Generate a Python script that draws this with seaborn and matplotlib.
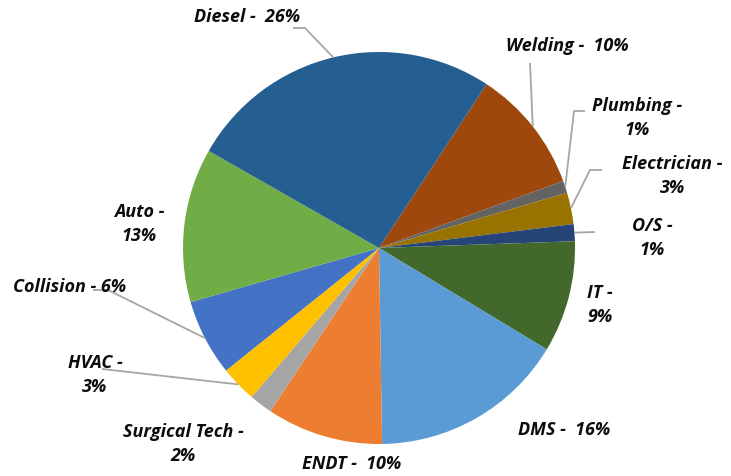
import matplotlib
matplotlib.use("Agg")
import matplotlib.pyplot as plt
import numpy as np
import seaborn as sns

# programs in clockwise order, starting with Welding
programs = ["Welding", "Plumbing", "Electrician", "O/S", "IT", "DMS", "ENDT",
            "Surgical Tech", "HVAC", "Collision", "Auto", "Diesel"]
shares = [10.2, 1.0, 2.6, 1.4, 9.2, 16.1, 9.6, 1.9, 3.0, 6.3, 12.7, 26.0]
labels = ["Welding -  10%", "Plumbing -\n1%", "Electrician -\n3%", "O/S -\n1%",
          "IT -\n9%", "DMS -  16%", "ENDT -  10%", "Surgical Tech -\n2%",
          "HVAC -\n3%", "Collision - 6%", "Auto -\n13%", "Diesel -  26%"]
colors = ["#9E480E", "#636363", "#997300", "#264478", "#43682B", "#5B9BD5",
          "#ED7D31", "#A5A5A5", "#FFC000", "#4472C4", "#70AD47", "#255E91"]

sns.set_theme(style="white")
plt.rcParams['font.family'] = ['Open Sans', 'DejaVu Sans']

W, H = 731, 476
CX, CY, R = 379, 248, 196


def py(y):
    # pixel row -> data y
    return H - y


# label centres in pixels
label_pos = [(567, 46), (637, 118), (672, 176), (652, 238), (600, 305),
             (564, 430), (352, 464), (183, 444), (95, 375), (70, 287),
             (139, 224), (247, 17)]
# leader line elbows (pixels); the last point is the wedge edge
leaders = {0: [(530, 63)], 1: [(585, 111), (574, 111)],
           2: [(602, 170), (590, 170)], 3: [(595, 232)],
           8: [(102, 369)], 9: [(93, 290), (108, 290)],
           11: [(293, 28), (305, 28)]}

fig = plt.figure(figsize=(W / 100, H / 100), dpi=100)
ax = fig.add_axes([0, 0, 1, 1])
wedges, _ = ax.pie(shares, colors=colors, startangle=56.7, counterclock=False,
                   center=(CX, py(CY)), radius=R,
                   wedgeprops=dict(linewidth=0))
ax.set_xlim(0, W)
ax.set_ylim(0, H)
ax.set_aspect('equal')
ax.axis('off')

for i, w in enumerate(wedges):
    mid = np.deg2rad((w.theta1 + w.theta2) / 2)
    edge = (CX + R * np.cos(mid), py(CY) + R * np.sin(mid))
    if i in leaders:
        pts = [(x, py(y)) for x, y in leaders[i]] + [edge]
        xs, ys = zip(*pts)
        ax.plot(xs, ys, color="#A6A6A6", lw=1.3, solid_capstyle='butt')
    x, y = label_pos[i]
    ax.text(x, py(y), labels[i], ha='center', va='center',
            multialignment='center', fontsize=13, fontweight='bold',
            fontstyle='italic', color='#0d0d0d', linespacing=1.45)

fig.savefig("out.png", dpi=100)
